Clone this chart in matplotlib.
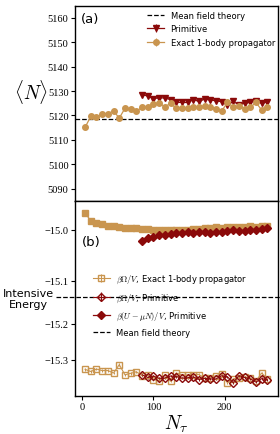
import numpy as np
import matplotlib
matplotlib.use('Agg')
import matplotlib.pyplot as plt

plt.rcParams['font.family'] = ['DejaVu Sans']
plt.rcParams['mathtext.fontset'] = 'cm'

tan = '#C9954F'
dred = '#8B0A0A'

# imaginary time slices
nt_exact = [4, 12, 20, 28, 36, 44, 52, 60, 68, 76, 84, 92, 100, 108, 116, 124, 132,
            140, 148, 156, 164, 172, 180, 188, 196, 204, 212, 220, 228, 236, 244, 252, 260]
nt_prim = [84, 92, 100, 108, 116, 124, 132, 140, 148, 156, 164, 172, 180, 188, 196,
           204, 212, 220, 228, 236, 244, 252, 260]

# (a) particle number
N_exact = [5115.1, 5119.6, 5119.2, 5120.4, 5120.7, 5121.8, 5118.9, 5122.9, 5122.7, 5121.6,
           5123.4, 5123.3, 5124.6, 5125.2, 5123.5, 5124.9, 5123.0, 5123.0, 5122.9, 5123.5,
           5123.5, 5123.8, 5123.5, 5122.6, 5121.8, 5125.4, 5123.3, 5123.7, 5122.7, 5123.3,
           5125.3, 5122.2, 5123.5]
N_prim = [5128.4, 5128.0, 5126.8, 5127.3, 5127.1, 5126.5, 5125.4, 5125.3, 5125.3, 5126.5,
          5125.7, 5126.7, 5126.3, 5126.0, 5125.6, 5124.1, 5125.7, 5124.4, 5124.9, 5125.4,
          5126.1, 5124.9, 5125.6]
N_mft = 5118.7

# (b) intensive energies
U_exact = [-14.971, -14.985, -14.989, -14.991, -14.993, -14.994, -14.996, -14.997, -14.998,
           -14.998, -14.999, -14.999, -15.000, -15.000, -15.001, -15.000, -15.001, -15.000,
           -15.001, -14.999, -14.999, -14.998, -14.998, -14.996, -14.997, -14.996, -14.996,
           -14.995, -14.995, -14.994, -14.996, -14.994, -14.993]
U_prim = [-15.020, -15.015, -15.013, -15.010, -15.009, -15.008, -15.007, -15.006, -15.005,
          -15.006, -15.004, -15.004, -15.006, -15.004, -15.005, -15.003, -15.001, -15.002,
          -15.002, -15.001, -15.000, -14.999, -14.998]
Om_exact = [-15.331, -15.338, -15.330, -15.335, -15.335, -15.343, -15.316, -15.349, -15.344,
            -15.339, -15.352, -15.350, -15.365, -15.369, -15.349, -15.371, -15.343, -15.349,
            -15.350, -15.348, -15.348, -15.361, -15.359, -15.352, -15.345, -15.377, -15.363,
            -15.359, -15.356, -15.360, -15.370, -15.343, -15.363]
Om_prim = [-15.349, -15.358, -15.353, -15.361, -15.360, -15.353, -15.355, -15.360, -15.359,
           -15.356, -15.365, -15.361, -15.363, -15.363, -15.352, -15.356, -15.376, -15.352,
           -15.358, -15.363, -15.374, -15.362, -15.366]
E_mft = -15.135

lam = 1.815


def fwd(e):
    return np.exp(lam * (np.asarray(e) + 15.0))


def inv(v):
    return np.log(np.clip(np.asarray(v), 1e-9, None)) / lam - 15.0


fig = plt.figure(figsize=(2.8, 4.35), dpi=100)
ax1 = fig.add_axes([0.267, 0.5363, 0.726, 0.4483])
ax2 = fig.add_axes([0.267, 0.088, 0.726, 0.4483], sharex=ax1)

ax1.axhline(N_mft, color='k', ls='--', lw=0.9, label='Mean field theory')
ax1.errorbar(nt_prim, N_prim, yerr=0.5, color=dred, marker='v', ms=4.5, lw=0.9,
             elinewidth=0.8, capsize=0, label='Primitive')
ax1.errorbar(nt_exact, N_exact, yerr=0.4, color=tan, marker='o', ms=4, lw=0.9,
             elinewidth=0.8, capsize=0, label='Exact 1-body propagator')
ax1.set_ylim(5085, 5165)
ax1.set_yticks([5090, 5100, 5110, 5120, 5130, 5140, 5150, 5160])
ax1.legend(loc='upper right', bbox_to_anchor=(0.985, 0.975), fontsize=6, frameon=False,
           borderpad=0, borderaxespad=0, handlelength=2.0, handletextpad=0.8,
           labelspacing=0.55)
ax1.text(0.03, 0.935, '(a)', transform=ax1.transAxes, fontsize=9.5, va='center')
ax1.set_ylabel(r'$\langle N\rangle$', fontsize=14, rotation=0, ha='center', va='center')
ax1.yaxis.set_label_coords(-0.215, 0.565)
ax1.tick_params(labelbottom=False)

ax2.errorbar(nt_exact, U_exact, yerr=0.002, color=tan, marker='s', ms=3.8, lw=0.9,
             elinewidth=0.8, capsize=0)
h1 = ax2.errorbar(nt_exact, Om_exact, yerr=0.004, color=tan, marker='s', ms=4.5, mfc='none',
                  lw=0.8, elinewidth=0.8, capsize=0)
h2 = ax2.errorbar(nt_prim, Om_prim, yerr=0.004, color=dred, marker='D', ms=3.8, mfc='none',
                  lw=0.8, elinewidth=0.8, capsize=0)
h3 = ax2.errorbar(nt_prim, U_prim, yerr=0.002, color=dred, marker='D', ms=3.6, lw=0.9,
                  elinewidth=0.8, capsize=0)
h4 = ax2.axhline(E_mft, xmin=-0.09, xmax=1.2, clip_on=False, color='k', ls='--', lw=0.9)
ax2.set_yscale('function', functions=(fwd, inv))
ax2.set_ylim(-15.424, -14.951)
ax2.set_yticks([-15.3, -15.2, -15.1, -15.0])
ax2.set_yticklabels(['\u221215.3', '\u221215.2', '\u221215.1', '\u221215.0'])
ax2.set_xlim(-10.5, 275)
ax2.set_xticks([0, 100, 200])
ax2.legend([h1, h2, h3, h4],
           [r'$\beta\Omega/V$, Exact 1-body propagator', r'$\beta\Omega/V$, Primitive',
            r'$\beta(U-\mu N)/V$, Primitive', 'Mean field theory'],
           loc='upper left', bbox_to_anchor=(0.09, 0.63), fontsize=6, frameon=False,
           borderpad=0, borderaxespad=0, handlelength=2.0, handletextpad=0.8,
           labelspacing=0.75)
ax2.text(0.035, 0.79, '(b)', transform=ax2.transAxes, fontsize=9.5, va='center')
ax2.set_ylabel('Intensive\nEnergy', fontsize=8, rotation=0, ha='center', va='center',
               linespacing=1.15)
ax2.yaxis.set_label_coords(-0.23, 0.5)
ax2.set_xlabel(r'$N_\tau$', fontsize=14, labelpad=1)

for ax in (ax1, ax2):
    ax.tick_params(direction='out', length=3, width=0.8, labelsize=7.5,
                   labelfontfamily='Liberation Serif', pad=1.5)
    for s in ax.spines.values():
        s.set_linewidth(1.0)

fig.savefig('out.png', dpi=100)
